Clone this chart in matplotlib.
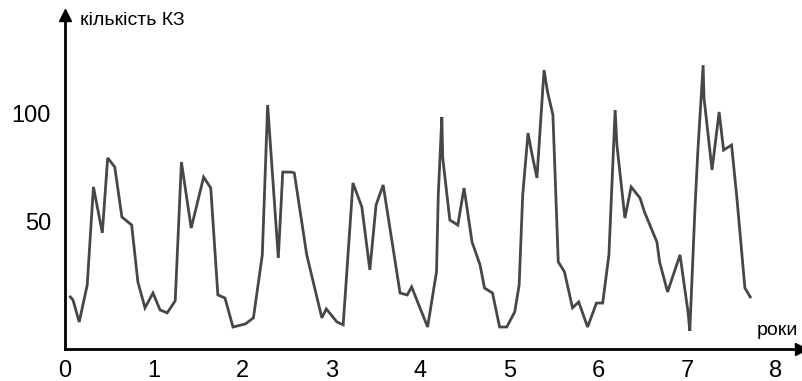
import matplotlib
matplotlib.use("Agg")
import matplotlib.pyplot as plt

plt.rcParams['font.family'] = ['Liberation Sans', 'DejaVu Sans']

# Number of short circuits over eight years
years = [0.06, 0.09, 0.16, 0.25, 0.32, 0.42, 0.48, 0.56, 0.64, 0.75,
         0.82, 0.90, 0.99, 1.07, 1.15, 1.24, 1.31, 1.42, 1.56, 1.64,
         1.72, 1.80, 1.89, 2.03, 2.12, 2.22, 2.28, 2.40, 2.45, 2.55,
         2.58, 2.72, 2.89, 2.94, 3.06, 3.13, 3.24, 3.34, 3.43, 3.50,
         3.58, 3.77, 3.85, 3.90, 4.08, 4.18, 4.20, 4.24, 4.25, 4.33,
         4.42, 4.49, 4.58, 4.67, 4.72, 4.81, 4.89, 4.97, 5.06, 5.11,
         5.15, 5.21, 5.25, 5.31, 5.39, 5.43, 5.49, 5.55, 5.62, 5.71,
         5.78, 5.88, 5.98, 6.05, 6.12, 6.19, 6.21, 6.30, 6.37, 6.47,
         6.52, 6.66, 6.69, 6.78, 6.92, 7.01, 7.03, 7.09, 7.12, 7.18,
         7.19, 7.28, 7.36, 7.41, 7.50, 7.56, 7.65, 7.71]
counts = [15.6, 14.2, 4.1, 21.1, 66.1, 45.0, 79.4, 75.2, 52.3, 48.6,
          22.5, 10.6, 17.4, 9.6, 8.3, 13.8, 77.5, 47.2, 70.6, 65.6,
          16.5, 15.1, 1.8, 3.2, 6.0, 34.9, 103.7, 33.5, 72.9, 72.9,
          72.5, 34.9, 6.0, 10.1, 4.1, 2.8, 67.9, 56.9, 28.0, 57.8,
          67.0, 17.4, 16.5, 20.2, 1.8, 27.1, 62.4, 98.2, 79.4, 50.9,
          48.6, 65.6, 40.8, 30.3, 19.7, 17.4, 1.8, 1.8, 8.7, 21.1,
          62.4, 90.8, 82.1, 70.2, 119.7, 109.6, 99.1, 31.7, 27.1, 10.6,
          13.3, 1.8, 12.8, 12.8, 34.9, 101.4, 85.3, 51.8, 66.1, 61.0,
          54.6, 40.8, 31.7, 17.9, 34.9, 8.7, 0.0, 57.8, 82.1, 122.0,
          106.9, 73.9, 100.5, 83.0, 85.3, 61.0, 19.7, 15.6]

x_ticks = [0, 1, 2, 3, 4, 5, 6, 7, 8]
y_ticks = [50, 100]

fig = plt.figure(figsize=(8.02, 3.81), dpi=100)
ax = fig.add_axes([65 / 802, 32 / 381, 735 / 802, 334 / 381])

ax.plot(years, counts, color='#474747', linewidth=2.0, solid_joinstyle='miter')

ax.set_xlim(0, 8.27)
ax.set_ylim(-8.3, 145)

# only the two axis lines, with arrow heads
for side in ['top', 'right']:
    ax.spines[side].set_visible(False)
for side in ['left', 'bottom']:
    ax.spines[side].set_linewidth(2.0)
    ax.spines[side].set_color('black')
ax.plot(0, 1, marker='^', color='black', markersize=9, transform=ax.transAxes, clip_on=False)
ax.plot(1.002, 0, marker='>', color='black', markersize=9, transform=ax.transAxes, clip_on=False)

ax.set_xticks(x_ticks)
ax.set_xticklabels([str(t) for t in x_ticks], fontsize=17)
ax.set_yticks(y_ticks)
ax.set_yticklabels([str(t) for t in y_ticks], fontsize=17)
ax.tick_params(axis='x', length=0, pad=8)
ax.tick_params(axis='y', length=0, pad=10)

ax.text(0.02, 0.985, 'кількість КЗ', transform=ax.transAxes, fontsize=14, va='center', ha='left')
ax.text(0.941, 0.055, 'роки', transform=ax.transAxes, fontsize=14, va='center', ha='left')

fig.savefig('out.png', dpi=100)
